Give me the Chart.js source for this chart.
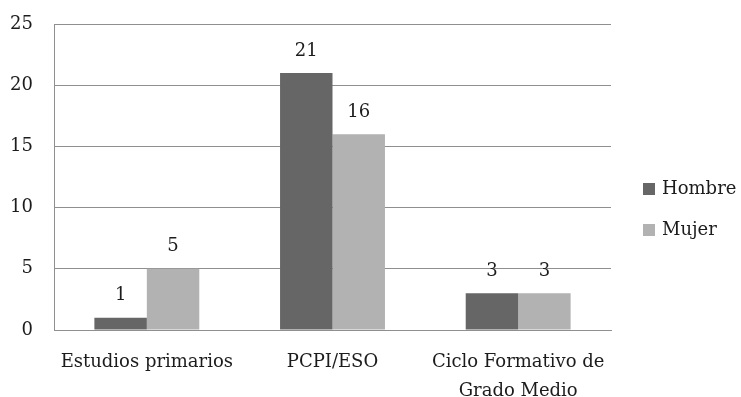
<!DOCTYPE html>
<html>
<head>
<meta charset="utf-8">
<script src="https://cdn.jsdelivr.net/npm/chart.js@4/dist/chart.umd.min.js"></script>
<style>
  html, body { margin: 0; padding: 0; background: #ffffff; }
  #wrap { width: 741px; height: 397px; }
</style>
</head>
<body>
<div id="wrap"><canvas id="chart" width="741" height="397"></canvas></div>
<script>
const categories = ['Estudios primarios', 'PCPI/ESO', ['Ciclo Formativo de', 'Grado Medio']];
const seriesNames = ['Hombre', 'Mujer'];
const hombre = [1, 21, 3];
const mujer = [5, 16, 3];
const yTicks = [0, 5, 10, 15, 20, 25];

const FONT = 'DejaVu Serif';
const TEXT = '#1c1c1c';
const COLORS = ['#666666', '#b2b2b2'];

// Value labels above every bar
const valueLabels = {
  id: 'valueLabels',
  afterDatasetsDraw(chart) {
    const ctx = chart.ctx;
    ctx.save();
    ctx.font = '18px "' + FONT + '"';
    ctx.fillStyle = TEXT;
    ctx.textAlign = 'center';
    ctx.textBaseline = 'middle';
    chart.data.datasets.forEach((ds, i) => {
      chart.getDatasetMeta(i).data.forEach((bar, j) => {
        ctx.fillText(String(ds.data[j]), bar.x, bar.y - 22);
      });
    });
    ctx.restore();
  }
};

// Legend to the right of the plot
const sideLegend = {
  id: 'sideLegend',
  afterDraw(chart) {
    const ctx = chart.ctx;
    const area = chart.chartArea;
    ctx.save();
    ctx.font = '18px "' + FONT + '"';
    ctx.textBaseline = 'middle';
    ctx.textAlign = 'left';
    const x = area.right + 32;
    const y0 = 189;
    chart.data.datasets.forEach((ds, i) => {
      const cy = y0 + i * 41;
      ctx.fillStyle = ds.backgroundColor;
      ctx.fillRect(x, cy - 6, 12, 12);
      ctx.fillStyle = TEXT;
      ctx.fillText(ds.label, x + 19, cy);
    });
    ctx.restore();
  }
};

new Chart(document.getElementById('chart'), {
  type: 'bar',
  data: {
    labels: categories,
    datasets: [
      { label: seriesNames[0], data: hombre, backgroundColor: COLORS[0] },
      { label: seriesNames[1], data: mujer, backgroundColor: COLORS[1] }
    ]
  },
  options: {
    responsive: false,
    animation: false,
    devicePixelRatio: 1,
    layout: { padding: { top: 24, right: 130, left: 0, bottom: 0 } },
    datasets: { bar: { categoryPercentage: 0.565, barPercentage: 1.0 } },
    plugins: {
      legend: { display: false },
      tooltip: { enabled: false }
    },
    scales: {
      x: {
        grid: { display: false, drawTicks: false },
        border: { display: true, color: '#8f8f8f', width: 1 },
        ticks: {
          color: TEXT,
          font: { family: FONT, size: 18, lineHeight: 1.6 },
          padding: 18,
          maxRotation: 0,
          autoSkip: false
        },
        afterFit(scale) { scale.height = 397 - 330; }
      },
      y: {
        min: 0,
        max: 25,
        afterBuildTicks(scale) { scale.ticks = yTicks.map(v => ({ value: v })); },
        grid: {
          color: '#8f8f8f',
          lineWidth: 1,
          drawTicks: true,
          tickLength: 15,
          tickColor: 'rgba(0,0,0,0)'
        },
        border: { display: true, color: '#8f8f8f', width: 1 },
        ticks: {
          color: TEXT,
          font: { family: FONT, size: 18 },
          padding: 6
        },
        afterFit(scale) { scale.width = 54; }
      }
    }
  },
  plugins: [valueLabels, sideLegend]
});
</script>
</body>
</html>
